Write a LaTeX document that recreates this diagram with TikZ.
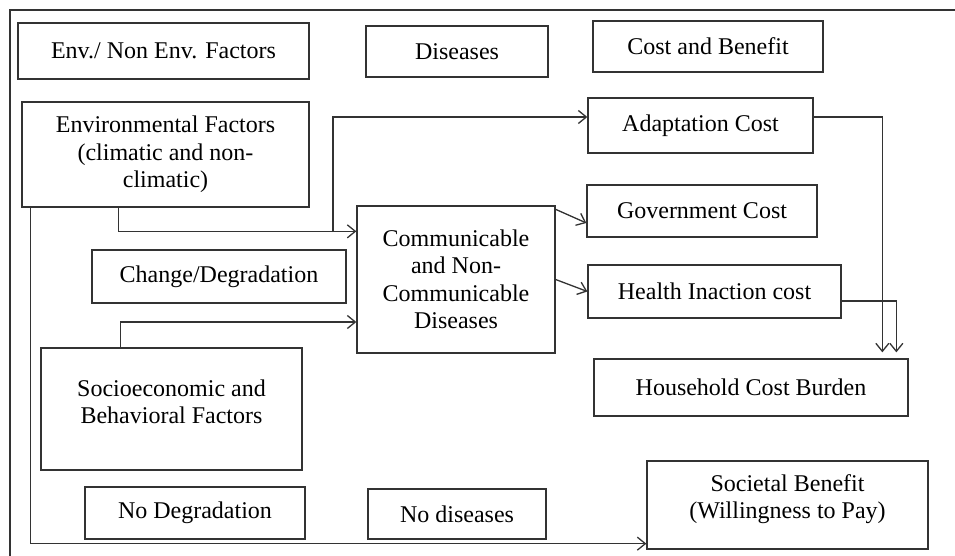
\documentclass[tikz,border=0pt]{standalone}
\usepackage{fontspec}
\setmainfont{Liberation Serif}
\usetikzlibrary{arrows.meta,calc}
\begin{document}
\begin{tikzpicture}[x=1pt,y=-1pt,
  box/.style={draw=black!80, line width=1.3pt, inner sep=0pt, align=center,
    font=\fontsize{24}{27.5}\selectfont},
  arr/.style={draw=black!80, line width=1.3pt, -{Straight Barb[length=8pt,width=13pt]}},
  ln/.style={draw=black!80, line width=1.3pt}]
\useasboundingbox (0,0) rectangle (955,556);
\draw[ln] (10,556) -- (10,10) -- (955,10);
% boxes: center, width, height
\node[box, minimum width=291, minimum height=56] (h1) at (163.5,51) {Env./ Non Env. Factors};
\node[box, minimum width=182, minimum height=51] (h2) at (457,51.5) {Diseases};
\node[box, minimum width=230, minimum height=51] (h3) at (708,46.5) {Cost and Benefit};
\node[box, minimum width=287, minimum height=105] (env) at (165.5,154.5) {Environmental Factors\\(climatic and non-\\climatic)};
\node[box, minimum width=225, minimum height=55] (adapt) at (700.5,125.5) {Adaptation Cost};
\node[box, minimum width=230, minimum height=52] (gov) at (702,211) {Government Cost};
\node[box, minimum width=198, minimum height=147] (comm) at (456,279.5) {Communicable\\and Non-\\Communicable\\Diseases};
\node[box, minimum width=254, minimum height=53] (chg) at (219,276.5) {Change/Degradation};
\node[box, minimum width=253, minimum height=53] (health) at (714.5,291.5) {Health Inaction cost};
\node[box, minimum width=314, minimum height=57] (house) at (751,387.5) {Household Cost Burden};
\node[box, minimum width=261, minimum height=122] (socio) at (171.5,409) {};
\node[font=\fontsize{24}{27.5}\selectfont, align=center] (sociot) at (171.5,402) {Socioeconomic and\\Behavioral Factors};
\node[box, minimum width=220, minimum height=52] (nodeg) at (195,513) {No Degradation};
\node[box, minimum width=178, minimum height=50] (nodis) at (457,514) {No diseases};
\node[box, minimum width=281, minimum height=88] (soc) at (787.5,505) {};
\node[font=\fontsize{24}{27.5}\selectfont, align=center] (soct) at (787.5,499) {Societal Benefit\\(Willingness to Pay)};
% connectors
\coordinate (j) at (333,232);
\draw[arr] ([xshift=97pt]env.south west) |- ([yshift=-26pt]comm.north west);
\draw[arr] (j) |- ([yshift=8.5pt]adapt.west);
\draw[arr] ([yshift=-4pt]comm.north east) -- ([yshift=-12pt]gov.west);
\draw[arr] (comm.east) -- (health.west);
\draw[arr] ([xshift=80pt]socio.north west) |- ([yshift=-42.5pt]comm.west);
\draw[arr] ([xshift=9pt]env.south west) |- ([yshift=6pt]soc.south west);
\draw[arr, shorten >=6pt] ([yshift=8.5pt]adapt.east) -| ([xshift=289pt]house.north west);
\draw[arr, shorten >=6pt] ([yshift=-9.5pt]health.east) -| ([xshift=303pt]house.north west);
\end{tikzpicture}
\end{document}
